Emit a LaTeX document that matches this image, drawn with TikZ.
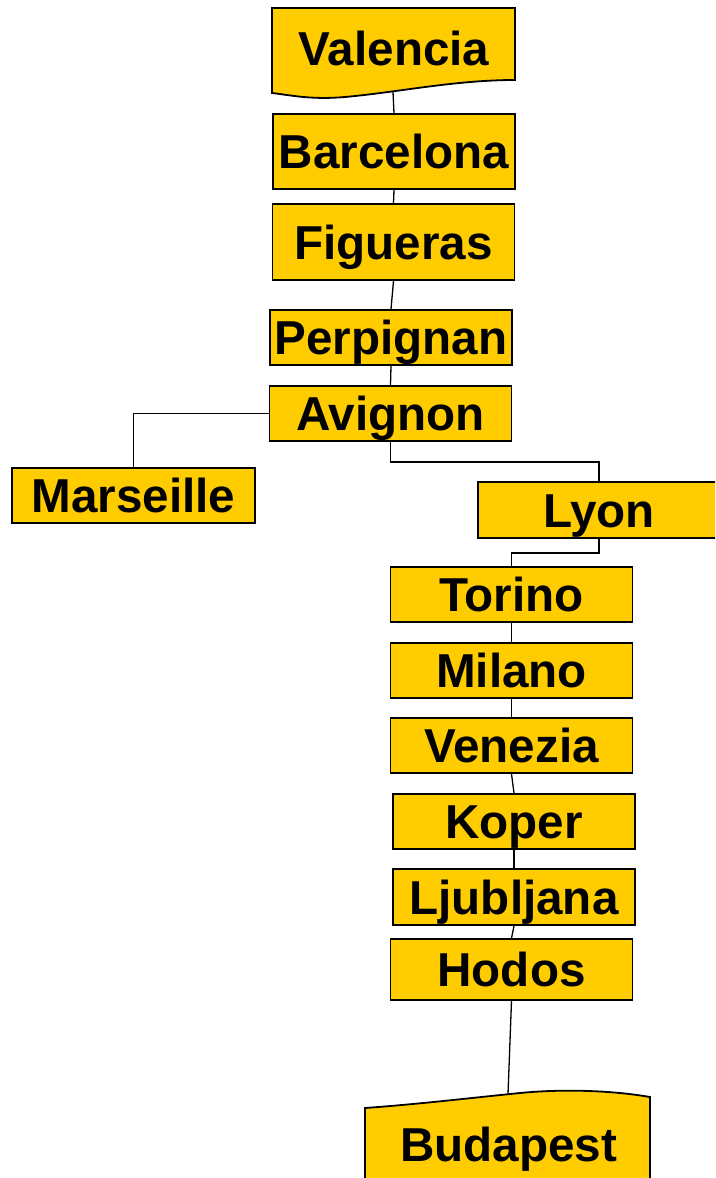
\documentclass[tikz,border=0pt]{standalone}
\usepackage{fontspec}
\setmainfont{Liberation Sans}
\usetikzlibrary{positioning}
\definecolor{cityyellow}{RGB}{255,204,0}

\begin{document}
\begin{tikzpicture}[x=1pt,y=-1pt,
  cityname/.style={inner sep=0pt,text height=34pt,text depth=0pt,
    font=\fontsize{47.6}{56}\selectfont\bfseries},
  city/.style={cityname,draw=black,line width=1.8pt,fill=cityyellow,minimum width=242pt},
  docbox/.style={draw=black,line width=1.8pt,fill=cityyellow},
  link/.style={draw=black,line width=1.3pt}]
\path[use as bounding box,clip] (0,0) rectangle (715,1178);

\draw[docbox] (272,8) -- (515,8) -- (515,80) .. controls (455,80) and (400,92) .. (345,97)
  .. controls (310,100) and (290,95) .. (272,93) -- cycle;
\node[cityname] (valencia) at (394,48.5) {Valencia};
\coordinate (valenciaend) at (393,92);

\node[city,minimum height=75pt] (barcelona) at (394,151.5) {Barcelona};
\node[city,minimum height=76pt] (figueras) at (393.5,242) {Figueras};
\node[city,minimum height=55pt] (perpignan) at (391,337.5) {Perpignan};
\node[city,minimum height=55pt] (avignon) at (390.5,413.5) {Avignon};
\node[city,minimum height=55pt,minimum width=243pt] (marseille) at (133.5,495.5) {Marseille};
\node[city,minimum height=56pt] (lyon) at (599,510) {Lyon};
\node[city,minimum height=55pt] (torino) at (511.5,594.5) {Torino};
\node[city,minimum height=55pt] (milano) at (511.5,670.5) {Milano};
\node[city,minimum height=55pt] (venezia) at (511.5,745.5) {Venezia};
\node[city,minimum height=55pt] (koper) at (514,821.5) {Koper};
\node[city,minimum height=56pt] (ljubljana) at (514,897) {Ljubljana};
\node[city,minimum height=61pt] (hodos) at (511.5,969.5) {Hodos};

\draw[docbox] (365,1200) -- (365,1108) .. controls (420,1104) and (470,1098) .. (520,1093)
  .. controls (560,1089) and (610,1090) .. (650,1097) -- (650,1200) -- cycle;
\node[cityname] (budapest) at (508.5,1144) {Budapest};
\coordinate (budapesttop) at (508,1094);

\draw[link] (valenciaend) -- (barcelona.north);
\draw[link] (barcelona.south) -- (figueras.north);
\draw[link] (figueras.south) -- (perpignan.north);
\draw[link] (perpignan.south) -- (avignon.north);
\draw[link] (avignon.west) -| (marseille.north);
\draw[link] (avignon.south) -- ++(0,20) -| (lyon.north);
\draw[link] (lyon.south) -- ++(0,14) -| (torino.north);
\draw[link] (torino.south) -- (milano.north);
\draw[link] (milano.south) -- (venezia.north);
\draw[link] (venezia.south) -- (koper.north);
\draw[link] (koper.south) -- (ljubljana.north);
\draw[link] (ljubljana.south) -- (hodos.north);
\draw[link] (hodos.south) -- (budapesttop);
\end{tikzpicture}
\end{document}
